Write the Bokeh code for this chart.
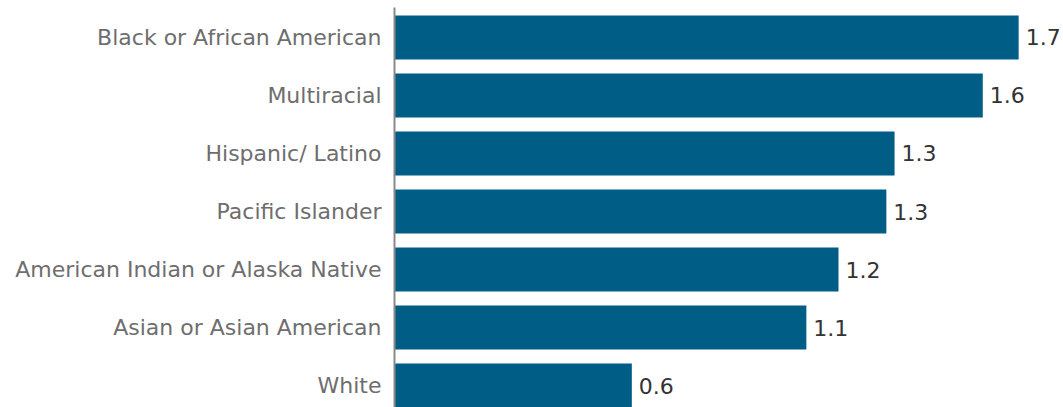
from bokeh.plotting import figure
from bokeh.models import ColumnDataSource, Range1d, LabelSet
from bokeh.core.properties import value
from bokeh.embed import file_html
from bokeh.resources import INLINE

categories = ["Black or African American", "Multiracial", "Hispanic/ Latino",
              "Pacific Islander", "American Indian or Alaska Native",
              "Asian or Asian American", "White"]
values = [1.670, 1.574, 1.338, 1.316, 1.188, 1.102, 0.635]
value_labels = [f"{v:.1f}" for v in values]

n = len(categories)
ypos = [n - 1 - i for i in range(n)]

src = ColumnDataSource(dict(y=ypos, v=values, lab=value_labels, cat=categories))

p = figure(width=1063, height=407, output_backend="svg", toolbar_location=None,
           x_range=Range1d(0, 1.79), y_range=Range1d(-0.379, 6.517),
           min_border_left=394, min_border_right=0, min_border_top=7, min_border_bottom=0)

p.hbar(y="y", right="v", left=0, height=0.76, source=src,
       fill_color="#005e86", line_color=None)

labels = LabelSet(x="v", y="y", text="lab", source=src, x_offset=7,
                  text_baseline="middle", text_align="left",
                  text_font=value("DejaVu Sans"), text_font_size="22px", text_color="#333333")
p.add_layout(labels)

p.xaxis.visible = False
p.grid.visible = False
p.outline_line_color = None

p.yaxis.ticker = ypos
p.yaxis.major_label_overrides = {y: c for y, c in zip(ypos, categories)}
p.yaxis.major_tick_line_color = None
p.yaxis.minor_tick_line_color = None
p.yaxis.axis_line_color = "#8a8a8a"
p.yaxis.axis_line_width = 2
p.yaxis.major_label_standoff = 7
p.yaxis.major_label_text_font = "DejaVu Sans"
p.yaxis.major_label_text_font_size = "22px"
p.yaxis.major_label_text_color = "#6e6e6e"

open("out.html", "w").write(file_html(p, INLINE))
